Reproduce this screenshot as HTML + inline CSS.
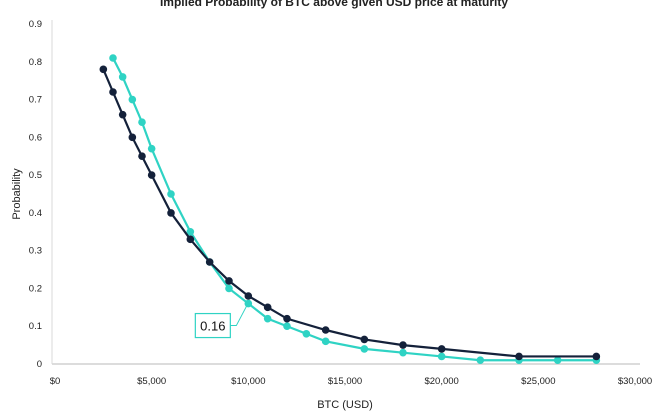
<!DOCTYPE html>
<html><head><meta charset="utf-8"><style>
body{margin:0;background:#fff;}
svg{display:block;font-family:"Liberation Sans",sans-serif;}
</style></head><body>
<svg id="c" width="668" height="417">
<text x="334" y="6" text-anchor="middle" font-size="12" font-weight="bold" fill="#222">Implied Probability of BTC above given USD price at maturity</text>
<g id="axes"></g>
<g id="marks"></g>
<text x="345" y="408" text-anchor="middle" font-size="11" fill="#222">BTC (USD)</text>
<text transform="translate(20,194) rotate(-90)" text-anchor="middle" font-size="11" fill="#222">Probability</text>
</svg>
<script>
const darkX=[2500,3000,3500,4000,4500,5000,6000,7000,8000,9000,10000,11000,12000,14000,16000,18000,20000,24000,28000];
const darkY=[0.78,0.72,0.66,0.60,0.55,0.50,0.40,0.33,0.27,0.22,0.18,0.15,0.12,0.09,0.065,0.05,0.04,0.02,0.02];
const tealX=[3000,3500,4000,4500,5000,6000,7000,8000,9000,10000,11000,12000,13000,14000,16000,18000,20000,22000,24000,26000,28000];
const tealY=[0.81,0.76,0.70,0.64,0.57,0.45,0.35,0.27,0.20,0.16,0.12,0.10,0.08,0.06,0.04,0.03,0.02,0.01,0.01,0.01,0.01];
const xTicks=[0,5000,10000,15000,20000,25000,30000];
const xTickLabels=["$0","$5,000","$10,000","$15,000","$20,000","$25,000","$30,000"];
const yTicks=[0,0.1,0.2,0.3,0.4,0.5,0.6,0.7,0.8,0.9];
const yTickLabels=["0","0.1","0.2","0.3","0.4","0.5","0.6","0.7","0.8","0.9"];
const labelX=10000, labelY=0.16, labelText="0.16";
const NS="http://www.w3.org/2000/svg";
const sx=v=>55+v/30000*580, sy=v=>364-v/0.9*340;
function mk(t,a,p){const e=document.createElementNS(NS,t);for(const k in a)e.setAttribute(k,a[k]);p.appendChild(e);return e;}
const ax=document.getElementById('axes'), mg=document.getElementById('marks');
const xl=mk('line',{x1:52,x2:640,y1:364,y2:364,stroke:'#d0d0d0','stroke-width':1.5},ax);


const yl=mk('line',{x1:52,x2:52,y1:20,y2:364,stroke:'#d8d8d8','stroke-width':1},ax);


xTicks.forEach((v,i)=>{const t=mk('text',{x:sx(v),y:384,'text-anchor':'middle','font-size':9.5,fill:'#222'},ax);t.textContent=xTickLabels[i];

});
yTicks.forEach((v,i)=>{const t=mk('text',{x:42,y:sy(v)+3,'text-anchor':'end','font-size':9.5,fill:'#222'},ax);t.textContent=yTickLabels[i];

});
function series(xs,ys,col,name){
 const pl=mk('polyline',{points:xs.map((x,i)=>sx(x)+','+sy(ys[i])).join(' '),fill:'none',stroke:col,'stroke-width':2.2},mg);
 
 
 xs.forEach((x,i)=>{const c=mk('circle',{cx:sx(x),cy:sy(ys[i]),r:3.8,fill:col},mg);
 
 });
}
series(tealX,tealY,'#2fd3c4','teal-series');
series(darkX,darkY,'#14213a','dark-series');
const lx=sx(labelX), ly=sy(labelY);
const ll=mk('polyline',{points:`${lx-2},${ly+3} ${lx-12},${ly+22} ${lx-18},${ly+22}`,fill:'none',stroke:'#2fd3c4','stroke-width':1},mg);


const br=mk('rect',{x:lx-53,y:ly+10,width:35,height:24,fill:'#fff',stroke:'#2fd3c4','stroke-width':1.2},mg);


const lt=mk('text',{x:lx-35.5,y:ly+27,'text-anchor':'middle','font-size':13,fill:'#111'},mg);
lt.textContent=labelText;


</script>
</body></html>
